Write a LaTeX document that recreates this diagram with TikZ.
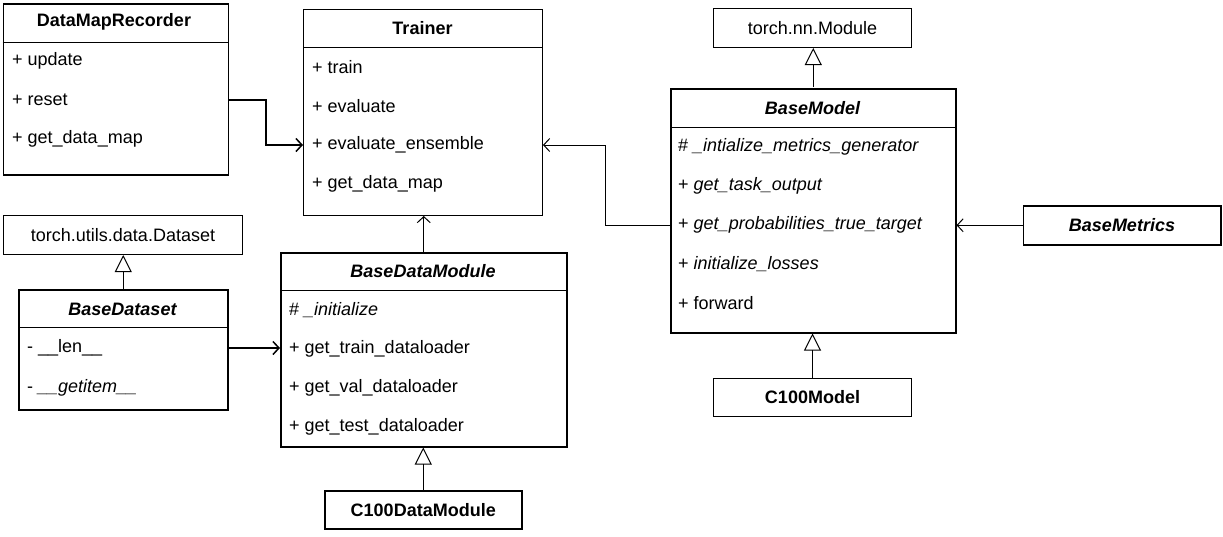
\documentclass[tikz,border=0pt]{standalone}
\usepackage{fontspec}
\setmainfont{Liberation Sans}
\usetikzlibrary{arrows.meta,calc}
\begin{document}
\begin{tikzpicture}[x=1pt,y=-1pt,
  every node/.style={font=\fontsize{18}{21}\selectfont},
  cls/.style={draw, line width=1pt, anchor=north west, inner sep=0pt},
  heavy/.style={line width=1.5pt},
  hdr/.style={font=\fontsize{18}{21}\selectfont\bfseries, anchor=center, inner sep=0pt},
  hdri/.style={font=\fontsize{18}{21}\selectfont\bfseries\itshape, anchor=center, inner sep=0pt},
  plain/.style={anchor=center, inner sep=0pt},
  row/.style={anchor=west, inner sep=0pt},
  assoc/.style={-{Straight Barb[length=6pt,width=13pt]}, line width=1pt},
  assocb/.style={-{Straight Barb[length=6pt,width=13pt]}, line width=1.5pt},
  inherit/.style={-{Triangle[open,length=17pt,width=17pt]}, line width=1pt, fill=white},
  sep/.style={line width=1pt}
]
\fill[white] (0,0) rectangle (1223,536);
\useasboundingbox (0,0) rectangle (1223,536);

% DataMapRecorder
\node[cls, heavy, minimum width=225pt, minimum height=171pt] (dmr) at (2.5,3) {};
\draw[sep] ($(dmr.north west)+(0,39)$) -- ($(dmr.north east)+(0,39)$);
\node[hdr] (dmrH) at (114,22) {DataMapRecorder};
\node[row] (dmr1) at (12,61) {+ update};
\node[row] (dmr2) at (12,100) {+ reset};
\node[row] (dmr3) at (12,139) {+ get\_data\_map};

% Trainer
\node[cls, minimum width=239pt, minimum height=206pt] (tr) at (303,9) {};
\draw[sep] ($(tr.north west)+(0,38)$) -- ($(tr.north east)+(0,38)$);
\node[hdr] (trH) at (422.5,28) {Trainer};
\node[row] (tr1) at (312,67) {+ train};
\node[row] (tr2) at (312,106) {+ evaluate};
\node[row] (tr3) at (312,145) {+ evaluate\_ensemble};
\node[row] (tr4) at (312,184) {+ get\_data\_map};

% torch.utils.data.Dataset
\node[cls, minimum width=239pt, minimum height=39pt] (tud) at (3,215) {};
\node[plain] (tudT) at (tud.center) {torch.utils.data.Dataset};

% BaseDataset
\node[cls, heavy, minimum width=209pt, minimum height=120pt] (bds) at (18,289) {};
\draw[sep] ($(bds.north west)+(0,38)$) -- ($(bds.north east)+(0,38)$);
\node[hdri] (bdsH) at (122.5,309) {BaseDataset};
\node[row] (bds1) at (27,348) {- \_\_len\_\_};
\node[row] (bds2) at (27,388) {- \textit{\_\_getitem\_\_}};

% BaseDataModule
\node[cls, heavy, minimum width=286pt, minimum height=194pt] (bdm) at (280,252) {};
\draw[sep] ($(bdm.north west)+(0,38)$) -- ($(bdm.north east)+(0,38)$);
\node[hdri] (bdmH) at (423,271) {BaseDataModule};
\node[row] (bdm1) at (289,310) {\# \textit{\_initialize}};
\node[row] (bdm2) at (289,349) {+ get\_train\_dataloader};
\node[row] (bdm3) at (289,388) {+ get\_val\_dataloader};
\node[row] (bdm4) at (289,427) {+ get\_test\_dataloader};

% C100DataModule
\node[cls, heavy, minimum width=197pt, minimum height=38pt] (cdm) at (324,490) {};
\node[hdr] (cdmT) at (cdm.center) {C100DataModule};

% torch.nn.Module
\node[cls, minimum width=198pt, minimum height=39pt] (tnn) at (713,8) {};
\node[plain] (tnnT) at (tnn.center) {torch.nn.Module};

% BaseModel
\node[cls, heavy, minimum width=285pt, minimum height=244pt] (bm) at (670,88) {};
\draw[sep] ($(bm.north west)+(0,39)$) -- ($(bm.north east)+(0,39)$);
\node[hdri] (bmH) at (812.5,108) {BaseModel};
\node[row] (bm1) at (678,147) {\# \textit{\_intialize\_metrics\_generator}};
\node[row] (bm2) at (678,186) {+ \textit{get\_task\_output}};
\node[row] (bm3) at (678,225) {+ \textit{get\_probabilities\_true\_target}};
\node[row] (bm4) at (678,264) {+ \textit{initialize\_losses}};
\node[row] (bm5) at (678,303) {+ forward};

% BaseMetrics
\node[cls, heavy, minimum width=197.5pt, minimum height=39pt] (bmet) at (1022.5,205) {};
\node[hdri] (bmetT) at (bmet.center) {BaseMetrics};

% C100Model
\node[cls, minimum width=198pt, minimum height=38pt] (cm) at (713,378) {};
\node[hdr] (cmT) at (cm.center) {C100Model};

% connectors
\draw[assocb] (dmr.east |- dmr2) -- ++(37,0) |- (tr.west |- tr3);
\draw[assoc] (bm.west |- bm3) -- ++(-65,0) |- (tr.east |- tr3);
\draw[assoc] (bmet.west) -- (bm.east |- bmet.west);
\draw[assocb] (bds.east |- bds1) -- (bdm.west |- bds1);
\draw[assoc] (bdm.north) -- (bdm.north |- tr.south);
\draw[inherit] (bds.north) -- (bds.north |- tud.south);
\draw[inherit] (cdm.north) -- (cdm.north |- bdm.south);
\draw[inherit] (cm.north) -- (cm.north |- bm.south);
\draw[inherit] (bm.north |- tnn.south) ++(0,39) -- (bm.north |- tnn.south);
\end{tikzpicture}
\end{document}
